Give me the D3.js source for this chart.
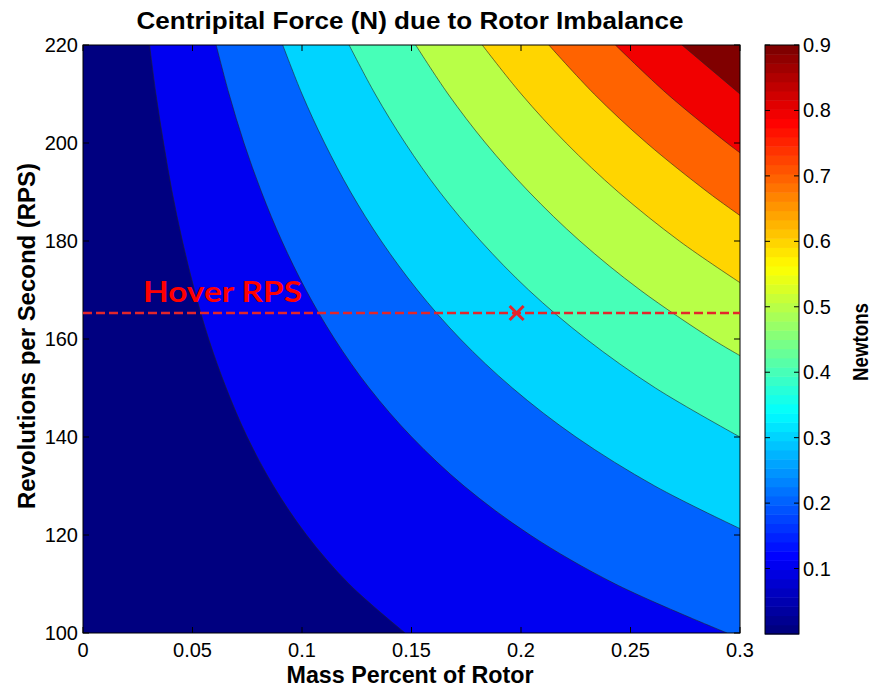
<!DOCTYPE html>
<html><head><meta charset="utf-8">
<script src="https://cdn.jsdelivr.net/npm/d3@7"></script>
<style>body{margin:0;background:#fff}</style>
</head><body>
<svg id="chart" width="877" height="687"></svg>
<script>
// ---- data ----
const xTicks = [0, 0.05, 0.1, 0.15, 0.2, 0.25, 0.3];
const yTicks = [100, 120, 140, 160, 180, 200, 220];
const cbTicks = [0.1, 0.2, 0.3, 0.4, 0.5, 0.6, 0.7, 0.8, 0.9];
const levels = [0.1, 0.2, 0.3, 0.4, 0.5, 0.6, 0.7, 0.8, 0.9];
// contour lines: [mass percent, RPS], top to bottom
const c01 = [[0.0304,220],[0.0333,210],[0.0368,200],[0.0407,190],[0.0454,180],[0.0509,170],[0.0574,160],[0.0654,150],[0.0750,140],[0.0870,130],[0.1021,120],[0.1215,110],[0.1471,100]];
const c02 = [[0.0608,220],[0.0667,210],[0.0735,200],[0.0815,190],[0.0908,180],[0.1018,170],[0.1149,160],[0.1307,150],[0.1501,140],[0.1740,130],[0.2042,120],[0.2431,110],[0.2941,100]];
const c03 = [[0.0912,220],[0.1000,210],[0.1103,200],[0.1222,190],[0.1362,180],[0.1527,170],[0.1723,160],[0.1961,150],[0.2251,140],[0.2611,130],[0.3,121.3]];
const c04 = [[0.1215,220],[0.1334,210],[0.1471,200],[0.1629,190],[0.1816,180],[0.2035,170],[0.2298,160],[0.2614,150],[0.3,140.0]];
const c05 = [[0.1519,220],[0.1667,210],[0.1838,200],[0.2037,190],[0.2269,180],[0.2544,170],[0.2872,160],[0.3,156.6]];
const c06 = [[0.1823,220],[0.2001,210],[0.2206,200],[0.2444,190],[0.2723,180],[0.3,171.5]];
const c07 = [[0.2127,220],[0.2334,210],[0.2574,200],[0.2852,190],[0.3,185.2]];
const c08 = [[0.2431,220],[0.2668,210],[0.2941,200],[0.3,198.0]];
const c09 = [[0.2735,220],[0.3,210.0]];
const contourLines = [c01, c02, c03, c04, c05, c06, c07, c08, c09];
const hoverRps = 165.3;
const hoverMass = 0.198;

// ---- layout ----
const L = 83, R = 740, T = 45, B = 633;
const svg = d3.select("#chart");
const x = d3.scaleLinear().domain([0, 0.3]).range([L, R]);
const y = d3.scaleLinear().domain([100, 220]).range([B, T]);
const cmin = 0, cmax = 0.9;

function jet(t) {
  const c = v => Math.round(255 * Math.max(0, Math.min(1, v)));
  return `rgb(${c(1.5 - Math.abs(4*t - 3))},${c(1.5 - Math.abs(4*t - 2))},${c(1.5 - Math.abs(4*t - 1))})`;
}
const colorOf = v => jet((v - cmin) / (cmax - cmin));

const font = "'Liberation Sans', Arial, Helvetica, sans-serif";
const tickFs = 20;

svg.append("defs").append("clipPath").attr("id", "clip")
  .append("rect").attr("x", L).attr("y", T).attr("width", R - L).attr("height", B - T);

const plot = svg.append("g").attr("clip-path", "url(#clip)");
plot.append("rect").attr("x", L).attr("y", T).attr("width", R - L).attr("height", B - T)
  .attr("fill", colorOf(0));

const line = d3.line().x(d => x(d[0])).y(d => y(d[1])).curve(d3.curveCatmullRom.alpha(0.5));
contourLines.forEach((pts, i) => {
  const last = pts[pts.length - 1];
  const d = line(pts) + `L${x(0.3)},${y(last[1])}L${x(0.3)},${y(220)}Z`;
  plot.append("path").attr("d", d).attr("fill", colorOf(levels[i])).attr("stroke", "none");
});
contourLines.forEach(pts => {
  plot.append("path").attr("d", line(pts)).attr("fill", "none")
    .attr("stroke", "#222").attr("stroke-width", 0.7).attr("stroke-opacity", 0.85);
});

// axes box and inside ticks
const tl = 6;
const axG = svg.append("g");
axG.append("rect").attr("x", L).attr("y", T).attr("width", R - L).attr("height", B - T)
  .attr("fill", "none").attr("stroke", "#000").attr("stroke-width", 1);
xTicks.forEach(v => {
  axG.append("line").attr("x1", x(v)).attr("x2", x(v)).attr("y1", B).attr("y2", B - tl).attr("stroke", "#000");
  axG.append("line").attr("x1", x(v)).attr("x2", x(v)).attr("y1", T).attr("y2", T + tl).attr("stroke", "#000");
  axG.append("text").attr("x", x(v)).attr("y", B + 24).attr("text-anchor", "middle")
    .attr("font-family", font).attr("font-size", tickFs).text(String(v));
});
yTicks.forEach(v => {
  axG.append("line").attr("x1", L).attr("x2", L + tl).attr("y1", y(v)).attr("y2", y(v)).attr("stroke", "#000");
  axG.append("line").attr("x1", R).attr("x2", R - tl).attr("y1", y(v)).attr("y2", y(v)).attr("stroke", "#000");
  axG.append("text").attr("x", L - 5).attr("y", y(v) + 7).attr("text-anchor", "end")
    .attr("font-family", font).attr("font-size", tickFs).text(String(v));
});

// titles
svg.append("text").attr("x", 410).attr("y", 29).attr("text-anchor", "middle")
  .attr("font-family", font).attr("font-weight", "bold").attr("font-size", 24)
  .attr("textLength", 547).attr("lengthAdjust", "spacingAndGlyphs")
  .text("Centripital Force (N) due to Rotor Imbalance");
svg.append("text").attr("x", 410).attr("y", 683).attr("text-anchor", "middle")
  .attr("font-family", font).attr("font-weight", "bold").attr("font-size", 23)
  .attr("textLength", 247).attr("lengthAdjust", "spacingAndGlyphs")
  .text("Mass Percent of Rotor");
svg.append("text").attr("transform", `translate(35,336) rotate(-90)`).attr("text-anchor", "middle")
  .attr("font-family", font).attr("font-weight", "bold").attr("font-size", 23)
  .attr("textLength", 346).attr("lengthAdjust", "spacingAndGlyphs")
  .text("Revolutions per Second (RPS)");

// hover line
svg.append("line").attr("x1", L).attr("x2", R).attr("y1", y(hoverRps)).attr("y2", y(hoverRps))
  .attr("stroke", "#e3262b").attr("stroke-width", 2.6).attr("stroke-dasharray", "9,4");
const cx = x(hoverMass), cy = y(hoverRps), cs = 7;
svg.append("path").attr("d", `M${cx-cs},${cy-cs}L${cx+cs},${cy+cs}M${cx-cs},${cy+cs}L${cx+cs},${cy-cs}`)
  .attr("stroke", "#e3262b").attr("stroke-width", 3).attr("fill", "none");
svg.append("text").attr("x", 143).attr("y", 302)
  .attr("font-family", "Lato, 'Open Sans', sans-serif").attr("font-weight", "bold").attr("font-size", 29)
  .attr("textLength", 159).attr("lengthAdjust", "spacingAndGlyphs")
  .attr("fill", "#ff0000").text("Hover RPS");

// colorbar
const cbL = 765, cbR = 799, cbT = 45, cbB = 634;
const cy2 = d3.scaleLinear().domain([cmin, cmax]).range([cbB, cbT]);
const n = 64;
const cb = svg.append("g");
d3.range(n).forEach(i => {
  const v0 = cmin + (cmax - cmin) * i / n, v1 = cmin + (cmax - cmin) * (i + 1) / n;
  cb.append("rect").attr("x", cbL).attr("width", cbR - cbL)
    .attr("y", cy2(v1)).attr("height", cy2(v0) - cy2(v1) + 0.5)
    .attr("fill", jet(i / (n - 1)));
});
cb.append("rect").attr("x", cbL).attr("y", cbT).attr("width", cbR - cbL).attr("height", cbB - cbT)
  .attr("fill", "none").attr("stroke", "#000").attr("stroke-width", 1);
cbTicks.forEach(v => {
  cb.append("line").attr("x1", cbL).attr("x2", cbL + 5).attr("y1", cy2(v)).attr("y2", cy2(v)).attr("stroke", "#000");
  cb.append("line").attr("x1", cbR).attr("x2", cbR - 5).attr("y1", cy2(v)).attr("y2", cy2(v)).attr("stroke", "#000");
  cb.append("text").attr("x", cbR + 4).attr("y", cy2(v) + 7)
    .attr("font-family", font).attr("font-size", tickFs).text(String(v));
});
svg.append("text").attr("transform", `translate(868,342) rotate(-90)`).attr("text-anchor", "middle")
  .attr("font-family", font).attr("font-weight", "bold").attr("font-size", 22)
  .attr("textLength", 78).attr("lengthAdjust", "spacingAndGlyphs").text("Newtons");
</script>
</body></html>
